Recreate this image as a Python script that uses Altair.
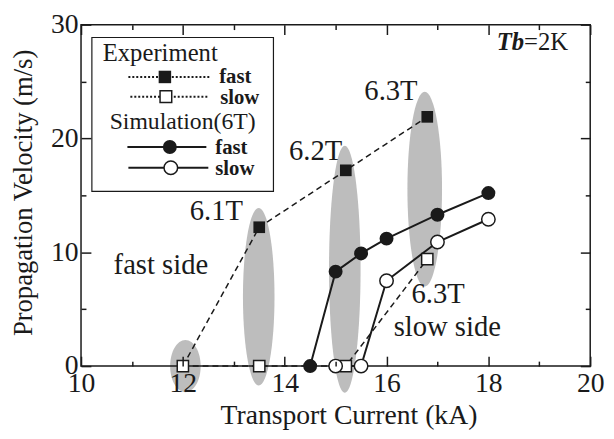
import altair as alt
import pandas as pd

# ---------------- data ----------------
exp_current = [12.0, 13.5, 15.2, 16.8]
exp_fast = [0.0, 12.2, 17.2, 21.9]
exp_slow = [0.0, 0.0, 0.0, 9.4]

sim_current = [14.5, 15.0, 15.5, 16.0, 17.0, 18.0]
sim_fast = [0.0, 8.3, 9.9, 11.2, 13.3, 15.2]
sim_slow = [None, 0.0, 0.0, 7.5, 10.9, 12.9]

# gray highlight ellipses (centre and half extents, in data units)
ell_x = [12.05, 13.49, 15.18, 16.75]
ell_y = [0.0, 6.1, 8.5, 15.55]
ell_half_w = [0.30, 0.31, 0.31, 0.34]
ell_half_h = [2.3, 7.8, 10.85, 8.55]

x_domain = [10, 20]
y_domain = [0, 30]
x_major = [10, 12, 14, 16, 18, 20]
x_minor = [11, 13, 15, 17, 19]
y_major = [0, 10, 20, 30]
y_minor = [5, 15, 25]

# ---------------- style ----------------
W, H = 516, 346
PXX = W / (x_domain[1] - x_domain[0])
PXY = H / (y_domain[1] - y_domain[0])
SERIF = "'Liberation Serif', 'Times New Roman', Times, 'DejaVu Serif', serif"
INK = "#1a1a1a"
GRAY = "#bdbdbd"

xs = alt.Scale(domain=x_domain, nice=False, zero=False)
ys = alt.Scale(domain=y_domain, nice=False, zero=False)


def ell_path(hw, hh):
    a = (hw * PXX) / (hh * PXY)
    return f"M{-a:.4f},0A{a:.4f},1 0 1,0 {a:.4f},0A{a:.4f},1 0 1,0 {-a:.4f},0Z"


ell_df = pd.DataFrame({"x": ell_x, "y": ell_y})
ell_df["shape"] = [ell_path(w, h) for w, h in zip(ell_half_w, ell_half_h)]
ell_df["size"] = [(2 * h * PXY) ** 2 for h in ell_half_h]

exp_df = pd.DataFrame({"current": exp_current, "fast": exp_fast, "slow": exp_slow})
sim_df = pd.DataFrame({"current": sim_current, "fast": sim_fast, "slow": sim_slow})
frame_df = pd.DataFrame({"x0": [x_domain[0]], "x1": [x_domain[1]],
                         "y0": [y_domain[0]], "y1": [y_domain[1]]})
one = pd.DataFrame({"a": [0]})

base_axis = dict(domain=False, grid=False, ticks=True, tickColor=INK,
                 tickWidth=1.5, zindex=1, labelFlush=False, labelOverlap=False,
                 labelFont=SERIF, labelFontSize=28, labelColor=INK)
title_style = dict(titleFont=SERIF, titleFontWeight="normal", titleColor=INK)

MAJ = alt.ExprRef(expr="-10")
MIN = alt.ExprRef(expr="-5")

x_axis = alt.Axis(orient="bottom", values=x_major, tickSize=MAJ, labelPadding=14,
                  title="Transport Current (kA)", titleFontSize=28, titleX=271, titleY=36,
                  **title_style, **base_axis)
y_axis = alt.Axis(orient="left", values=y_major, tickSize=MAJ, labelPadding=13,
                  title="Propagation Velocity (m/s)", titleFontSize=27, titleX=-44, titleY=170,
                  **title_style, **base_axis)
x_top = alt.Axis(orient="top", values=x_major, tickSize=MAJ, labels=False, title=None, **base_axis)
y_right = alt.Axis(orient="right", values=y_major, tickSize=MAJ, labels=False, title=None, **base_axis)
x_bot_min = alt.Axis(orient="bottom", values=x_minor, tickSize=MIN, labels=False, title=None, **base_axis)
y_left_min = alt.Axis(orient="left", values=y_minor, tickSize=MIN, labels=False, title=None, **base_axis)
x_top_min = alt.Axis(orient="top", values=x_minor, tickSize=MIN, labels=False, title=None, **base_axis)
y_right_min = alt.Axis(orient="right", values=y_minor, tickSize=MIN, labels=False, title=None, **base_axis)

ellipses = alt.Chart(ell_df).mark_point(filled=True, color=GRAY, opacity=1, strokeWidth=0).encode(
    x=alt.X("x:Q", scale=xs, axis=x_axis),
    y=alt.Y("y:Q", scale=ys, axis=y_axis),
    shape=alt.Shape("shape:N", scale=None),
    size=alt.Size("size:Q", scale=None),
)

frame = alt.Chart(frame_df).mark_rect(filled=False, stroke=INK, strokeWidth=1.5).encode(
    x=alt.X("x0:Q", scale=xs, axis=x_top),
    x2="x1:Q",
    y=alt.Y("y0:Q", scale=ys, axis=y_right),
    y2="y1:Q",
)

minor_a = alt.Chart(frame_df).mark_point(opacity=0).encode(
    x=alt.X("x0:Q", scale=xs, axis=x_bot_min),
    y=alt.Y("y0:Q", scale=ys, axis=y_left_min),
)
minor_b = alt.Chart(frame_df).mark_point(opacity=0).encode(
    x=alt.X("x1:Q", scale=xs, axis=x_top_min),
    y=alt.Y("y1:Q", scale=ys, axis=y_right_min),
)


def enc(field, data_x="current"):
    return dict(x=alt.X(f"{data_x}:Q", scale=xs, axis=None),
                y=alt.Y(f"{field}:Q", scale=ys, axis=None))


exp_fast_line = alt.Chart(exp_df).mark_line(color=INK, strokeDash=[6, 4], strokeWidth=1.5).encode(**enc("fast"))
exp_slow_line = alt.Chart(exp_df).mark_line(color=INK, strokeDash=[6, 4], strokeWidth=1.5).encode(**enc("slow"))
sim_fast_line = alt.Chart(sim_df).mark_line(color=INK, strokeWidth=2).encode(**enc("fast"))
sim_slow_line = alt.Chart(sim_df).mark_line(color=INK, strokeWidth=2).encode(**enc("slow"))

exp_fast_pts = alt.Chart(exp_df).transform_filter("datum.fast > 0").mark_point(
    shape="square", filled=True, color=INK, size=140, opacity=1).encode(**enc("fast"))
exp_slow_pts = alt.Chart(exp_df).mark_point(
    shape="square", filled=True, fill="white", stroke=INK, strokeWidth=1.5, size=130, opacity=1).encode(**enc("slow"))
sim_fast_pts = alt.Chart(sim_df).mark_point(
    shape="circle", filled=True, color=INK, size=200, opacity=1).encode(**enc("fast"))
sim_slow_pts = alt.Chart(sim_df).transform_filter("isValid(datum.slow)").mark_point(
    shape="circle", filled=True, fill="white", stroke=INK, strokeWidth=1.5, size=185, opacity=1).encode(**enc("slow"))


def annot(text, xv, yv, align, size=29):
    return alt.Chart(one).mark_text(font=SERIF, fontSize=size, color=INK, align=align,
                                    baseline="alphabetic").encode(
        x=alt.XDatum(xv, scale=xs, axis=None),
        y=alt.YDatum(yv, scale=ys, axis=None),
        text=alt.value(text))


annots = [
    annot("6.1T", 13.18, 12.84, "right"),
    annot("6.2T", 15.13, 18.1, "right"),
    annot("6.3T", 16.61, 23.4, "right"),
    annot("fast side", 10.64, 8.07, "left"),
    annot("6.3T", 16.49, 5.55, "left"),
    annot("slow side", 16.14, 2.6, "left"),
]

tb1 = alt.Chart(one).mark_text(font=SERIF, fontSize=25, fontWeight="bold", fontStyle="italic",
                               color=INK, align="right", baseline="alphabetic").encode(
    x=alt.value(449), y=alt.value(26), text=alt.value("Tb"))
tb2 = alt.Chart(one).mark_text(font=SERIF, fontSize=25, color=INK, align="left",
                               baseline="alphabetic").encode(
    x=alt.value(449), y=alt.value(26), text=alt.value("=2K"))

# ---------------- legend (drawn by hand inside the plot) ----------------
leg_box = alt.Chart(one).mark_rect(fill="white", stroke=INK, strokeWidth=1.2).encode(
    x=alt.value(11), x2=alt.value(195), y=alt.value(13), y2=alt.value(169))


def leg_text(t, x, y, size, weight="normal"):
    return alt.Chart(one).mark_text(font=SERIF, fontSize=size, fontWeight=weight, color=INK,
                                    align="left", baseline="middle").encode(
        x=alt.value(x), y=alt.value(y), text=alt.value(t))


def leg_line(x1, x2, y, dash=None, width=2):
    kw = dict(color=INK, strokeWidth=width)
    if dash:
        kw["strokeDash"] = dash
    return alt.Chart(one).mark_rule(**kw).encode(x=alt.value(x1), x2=alt.value(x2), y=alt.value(y))


def leg_pt(x, y, shape, filled_black, size):
    if filled_black:
        m = alt.Chart(one).mark_point(shape=shape, filled=True, color=INK, size=size, opacity=1)
    else:
        m = alt.Chart(one).mark_point(shape=shape, filled=True, fill="white", stroke=INK,
                                      strokeWidth=1.5, size=size, opacity=1)
    return m.encode(x=alt.value(x), y=alt.value(y))


legend = [
    leg_box,
    leg_text("Experiment", 22, 29, 25),
    leg_line(48, 130, 53, dash=[2, 2], width=2),
    leg_pt(85, 53, "square", True, 160),
    leg_text("fast", 140, 53, 21, "bold"),
    leg_line(50, 128, 73, dash=[2, 2], width=2),
    leg_pt(86, 73, "square", False, 140),
    leg_text("slow", 141, 74, 21, "bold"),
    leg_text("Simulation(6T)", 29, 99, 24),
    leg_line(47, 127, 124, width=2),
    leg_pt(90, 124, "circle", True, 200),
    leg_text("fast", 136, 125, 21, "bold"),
    leg_line(48, 129, 145, width=2),
    leg_pt(91, 145, "circle", False, 190),
    leg_text("slow", 136, 146, 21, "bold"),
]

chart = alt.layer(
    ellipses, frame, minor_a, minor_b,
    exp_fast_line, exp_slow_line, sim_fast_line, sim_slow_line,
    exp_fast_pts, exp_slow_pts, sim_fast_pts, sim_slow_pts,
    *annots, tb1, tb2, *legend,
).resolve_axis(x="independent", y="independent").properties(
    width=W, height=H,
    padding={"left": 74, "top": 14, "right": 16, "bottom": 70},
    autosize=alt.AutoSizeParams(type="none"),
).configure_view(strokeWidth=0)

chart.save("out.html", embed_options={"renderer": "svg", "actions": False})
